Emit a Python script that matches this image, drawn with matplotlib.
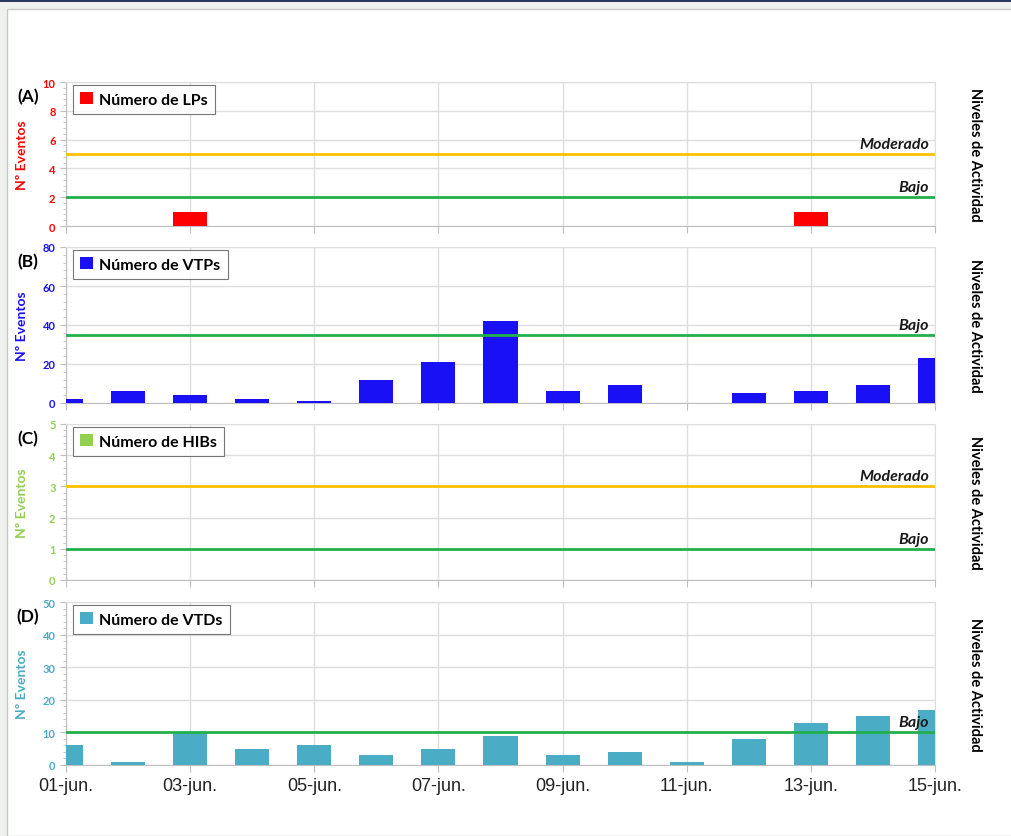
import matplotlib.pyplot as plt
from matplotlib.patches import Patch, Rectangle
from matplotlib.ticker import MultipleLocator, AutoMinorLocator

# data
days = list(range(1, 16))
day_labels = ['01-jun.', '03-jun.', '05-jun.', '07-jun.', '09-jun.', '11-jun.', '13-jun.', '15-jun.']
lps = [0, 0, 1, 0, 0, 0, 0, 0, 0, 0, 0, 0, 1, 0, 0]
vtps = [2, 6, 4, 2, 1, 12, 21, 42, 6, 9, 0, 5, 6, 9, 23]
hibs = [0] * 15
vtds = [6, 1, 10, 5, 6, 3, 5, 9, 3, 4, 1, 8, 13, 15, 17]

panels = [
    # tag, name, values, color, ymax, ystep, levels (name, value, color)
    ('(A)', 'Número de LPs', lps, '#ff0000', 10, 2, [('Moderado', 5, '#ffc000'), ('Bajo', 2, '#22b04c')]),
    ('(B)', 'Número de VTPs', vtps, '#1a10f5', 80, 20, [('Bajo', 35, '#22b04c')]),
    ('(C)', 'Número de HIBs', hibs, '#92d050', 5, 1, [('Moderado', 3, '#ffc000'), ('Bajo', 1, '#22b04c')]),
    ('(D)', 'Número de VTDs', vtds, '#4bacc6', 50, 10, [('Bajo', 10, '#22b04c')]),
]

W, H = 1011, 837
fig = plt.figure(figsize=(W / 100, H / 100), dpi=100)
fig.patch.set_facecolor('#eef1ee')
# window frame look
fig.add_artist(Rectangle((7 / W, 0), 1, 1 - 10 / H, transform=fig.transFigure,
                         facecolor='white', edgecolor='#c8c8c8', lw=1, zorder=-10))
fig.add_artist(Rectangle((0, 1 - 3 / H), 1, 3 / H, transform=fig.transFigure,
                         facecolor='#2a3a5c', edgecolor='none', zorder=-10))

# pixel boxes (top, bottom) of each panel
boxes = [(83, 227), (248, 404), (425, 581), (603, 766)]
x0, x1 = 66, 935

main_font = 'Lato'
for i, (tag, name, vals, col, ymax, ystep, levels) in enumerate(panels):
    top, bot = boxes[i]
    ax = fig.add_axes([x0 / W, 1 - bot / H, (x1 - x0) / W, (bot - top) / H])
    ax.patch.set_alpha(0)
    ax.bar(days, vals, width=0.55, color=col, zorder=3)
    for lname, lv, lc in levels:
        ax.axhline(lv, color=lc, lw=2, zorder=4)
        ax.text(14.9, lv + ymax * 0.02, lname, ha='right', va='bottom',
                fontsize=11.5, fontweight='bold', style='italic',
                family=main_font, color='#1a1a1a', zorder=5)
    ax.set_xlim(1, 15)
    ax.set_ylim(0, ymax)
    ax.yaxis.set_major_locator(MultipleLocator(ystep))
    ax.yaxis.set_minor_locator(AutoMinorLocator(5))
    ax.set_xticks(range(1, 16, 2))
    ax.grid(True, which='major', color='#dedede', lw=1, zorder=0)
    for s in ax.spines.values():
        s.set_color('#dedede')
    ax.spines['left'].set_color('#bfbfbf')
    ax.spines['bottom'].set_color('#bfbfbf')
    ax.tick_params(axis='y', which='both', colors='#bfbfbf', labelcolor=col,
                   labelsize=8, length=4)
    ax.tick_params(axis='y', which='minor', length=2)
    for lab in ax.get_yticklabels():
        lab.set_fontweight('bold')
        lab.set_family(main_font)
    ax.tick_params(axis='x', colors='#bfbfbf', length=5)
    if i == 3:
        ax.set_xticklabels(day_labels, fontsize=13, family='Liberation Sans', color='#222222')
    else:
        ax.set_xticklabels([])
    ax.set_ylabel('Nº Eventos', color=col, fontsize=10, fontweight='bold',
                  family=main_font)
    ax.yaxis.set_label_coords(-38 / (x1 - x0), 0.5)
    leg = ax.legend(handles=[Patch(facecolor=col, label=name)], loc='upper left',
                    bbox_to_anchor=(7 / (x1 - x0), 1 - 3 / (bot - top)),
                    borderaxespad=0, fancybox=False, handlelength=0.8, handleheight=0.8,
                    handletextpad=0.4, borderpad=0.45,
                    prop={'family': main_font, 'weight': 'bold', 'size': 11.5})
    leg.get_frame().set_edgecolor('#555555')
    leg.get_frame().set_linewidth(0.8)
    leg.set_zorder(6)
    fig.text(28 / W, 1 - (top + 14) / H, tag, ha='center', va='center',
             fontsize=12.5, fontweight='bold', family=main_font)
    fig.text(975 / W, 1 - (top + bot) / 2 / H, 'Niveles de Actividad', rotation=-90,
             ha='center', va='center', fontsize=10.5, fontweight='bold', family=main_font)

fig.savefig('out.png', dpi=100, facecolor=fig.get_facecolor())
